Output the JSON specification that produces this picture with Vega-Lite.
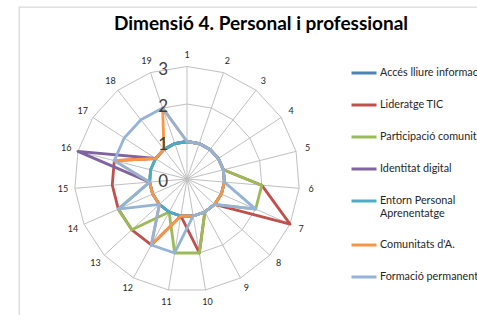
{
  "$schema": "https://vega.github.io/schema/vega-lite/v6.json",
  "width": 470,
  "height": 320,
  "autosize": {"type": "none"},
  "padding": {"left": 19, "top": 7, "right": 0, "bottom": 0},
  "background": "white",
  "config": {"view": {"stroke": "#d9d9d9", "strokeWidth": 1.3}, "font": "Lato"},
  "title": {"text": "Dimensió 4. Personal i professional", "font": "Lato", "fontSize": 19, "fontWeight": "bold", "color": "#000000", "anchor": "middle", "offset": 0, "dy": 42, "dx": 7, "baseline": "alphabetic"},
  "datasets": {
    "eixos": [
      {"eix": 1, "nivells": [1, 2, 3]}, {"eix": 2, "nivells": [1, 2, 3]}, {"eix": 3, "nivells": [1, 2, 3]}, {"eix": 4, "nivells": [1, 2, 3]},
      {"eix": 5, "nivells": [1, 2, 3]}, {"eix": 6, "nivells": [1, 2, 3]}, {"eix": 7, "nivells": [1, 2, 3]}, {"eix": 8, "nivells": [1, 2, 3]},
      {"eix": 9, "nivells": [1, 2, 3]}, {"eix": 10, "nivells": [1, 2, 3]}, {"eix": 11, "nivells": [1, 2, 3]}, {"eix": 12, "nivells": [1, 2, 3]},
      {"eix": 13, "nivells": [1, 2, 3]}, {"eix": 14, "nivells": [1, 2, 3]}, {"eix": 15, "nivells": [1, 2, 3]}, {"eix": 16, "nivells": [1, 2, 3]},
      {"eix": 17, "nivells": [1, 2, 3]}, {"eix": 18, "nivells": [1, 2, 3]}, {"eix": 19, "nivells": [1, 2, 3]}
    ],
    "escala": [{"n": 0}, {"n": 1}, {"n": 2}, {"n": 3}],
    "series": [
      {"serie": "Accés lliure informació", "eix": 1, "valor": 1}, {"serie": "Accés lliure informació", "eix": 2, "valor": 1}, {"serie": "Accés lliure informació", "eix": 3, "valor": 1}, {"serie": "Accés lliure informació", "eix": 4, "valor": 1}, {"serie": "Accés lliure informació", "eix": 5, "valor": 1}, {"serie": "Accés lliure informació", "eix": 6, "valor": 1}, {"serie": "Accés lliure informació", "eix": 7, "valor": 1}, {"serie": "Accés lliure informació", "eix": 8, "valor": 1}, {"serie": "Accés lliure informació", "eix": 9, "valor": 1}, {"serie": "Accés lliure informació", "eix": 10, "valor": 1}, {"serie": "Accés lliure informació", "eix": 11, "valor": 1}, {"serie": "Accés lliure informació", "eix": 12, "valor": 1}, {"serie": "Accés lliure informació", "eix": 13, "valor": 1}, {"serie": "Accés lliure informació", "eix": 14, "valor": 1}, {"serie": "Accés lliure informació", "eix": 15, "valor": 1}, {"serie": "Accés lliure informació", "eix": 16, "valor": 1}, {"serie": "Accés lliure informació", "eix": 17, "valor": 1}, {"serie": "Accés lliure informació", "eix": 18, "valor": 1}, {"serie": "Accés lliure informació", "eix": 19, "valor": 1},
      {"serie": "Lideratge TIC", "eix": 1, "valor": 1}, {"serie": "Lideratge TIC", "eix": 2, "valor": 1}, {"serie": "Lideratge TIC", "eix": 3, "valor": 1}, {"serie": "Lideratge TIC", "eix": 4, "valor": 1}, {"serie": "Lideratge TIC", "eix": 5, "valor": 1}, {"serie": "Lideratge TIC", "eix": 6, "valor": 2}, {"serie": "Lideratge TIC", "eix": 7, "valor": 3}, {"serie": "Lideratge TIC", "eix": 8, "valor": 1}, {"serie": "Lideratge TIC", "eix": 9, "valor": 1}, {"serie": "Lideratge TIC", "eix": 10, "valor": 2}, {"serie": "Lideratge TIC", "eix": 11, "valor": 1}, {"serie": "Lideratge TIC", "eix": 12, "valor": 2}, {"serie": "Lideratge TIC", "eix": 13, "valor": 2}, {"serie": "Lideratge TIC", "eix": 14, "valor": 2}, {"serie": "Lideratge TIC", "eix": 15, "valor": 2}, {"serie": "Lideratge TIC", "eix": 16, "valor": 2}, {"serie": "Lideratge TIC", "eix": 17, "valor": 1}, {"serie": "Lideratge TIC", "eix": 18, "valor": 1}, {"serie": "Lideratge TIC", "eix": 19, "valor": 1},
      {"serie": "Participació comunitària", "eix": 1, "valor": 1}, {"serie": "Participació comunitària", "eix": 2, "valor": 1}, {"serie": "Participació comunitària", "eix": 3, "valor": 1}, {"serie": "Participació comunitària", "eix": 4, "valor": 1}, {"serie": "Participació comunitària", "eix": 5, "valor": 1}, {"serie": "Participació comunitària", "eix": 6, "valor": 2}, {"serie": "Participació comunitària", "eix": 7, "valor": 2}, {"serie": "Participació comunitària", "eix": 8, "valor": 1}, {"serie": "Participació comunitària", "eix": 9, "valor": 1}, {"serie": "Participació comunitària", "eix": 10, "valor": 2}, {"serie": "Participació comunitària", "eix": 11, "valor": 2}, {"serie": "Participació comunitària", "eix": 12, "valor": 1}, {"serie": "Participació comunitària", "eix": 13, "valor": 2}, {"serie": "Participació comunitària", "eix": 14, "valor": 2}, {"serie": "Participació comunitària", "eix": 15, "valor": 1}, {"serie": "Participació comunitària", "eix": 16, "valor": 1}, {"serie": "Participació comunitària", "eix": 17, "valor": 1}, {"serie": "Participació comunitària", "eix": 18, "valor": 1}, {"serie": "Participació comunitària", "eix": 19, "valor": 1},
      {"serie": "Identitat digital", "eix": 1, "valor": 1}, {"serie": "Identitat digital", "eix": 2, "valor": 1}, {"serie": "Identitat digital", "eix": 3, "valor": 1}, {"serie": "Identitat digital", "eix": 4, "valor": 1}, {"serie": "Identitat digital", "eix": 5, "valor": 1}, {"serie": "Identitat digital", "eix": 6, "valor": 1}, {"serie": "Identitat digital", "eix": 7, "valor": 1}, {"serie": "Identitat digital", "eix": 8, "valor": 1}, {"serie": "Identitat digital", "eix": 9, "valor": 1}, {"serie": "Identitat digital", "eix": 10, "valor": 1}, {"serie": "Identitat digital", "eix": 11, "valor": 1}, {"serie": "Identitat digital", "eix": 12, "valor": 1}, {"serie": "Identitat digital", "eix": 13, "valor": 1}, {"serie": "Identitat digital", "eix": 14, "valor": 1}, {"serie": "Identitat digital", "eix": 15, "valor": 1}, {"serie": "Identitat digital", "eix": 16, "valor": 3}, {"serie": "Identitat digital", "eix": 17, "valor": 1}, {"serie": "Identitat digital", "eix": 18, "valor": 1}, {"serie": "Identitat digital", "eix": 19, "valor": 1},
      {"serie": "Entorn Personal Aprenentatge", "eix": 1, "valor": 1}, {"serie": "Entorn Personal Aprenentatge", "eix": 2, "valor": 1}, {"serie": "Entorn Personal Aprenentatge", "eix": 3, "valor": 1}, {"serie": "Entorn Personal Aprenentatge", "eix": 4, "valor": 1}, {"serie": "Entorn Personal Aprenentatge", "eix": 5, "valor": 1}, {"serie": "Entorn Personal Aprenentatge", "eix": 6, "valor": 1}, {"serie": "Entorn Personal Aprenentatge", "eix": 7, "valor": 1}, {"serie": "Entorn Personal Aprenentatge", "eix": 8, "valor": 1}, {"serie": "Entorn Personal Aprenentatge", "eix": 9, "valor": 1}, {"serie": "Entorn Personal Aprenentatge", "eix": 10, "valor": 1}, {"serie": "Entorn Personal Aprenentatge", "eix": 11, "valor": 1}, {"serie": "Entorn Personal Aprenentatge", "eix": 12, "valor": 1}, {"serie": "Entorn Personal Aprenentatge", "eix": 13, "valor": 1}, {"serie": "Entorn Personal Aprenentatge", "eix": 14, "valor": 1}, {"serie": "Entorn Personal Aprenentatge", "eix": 15, "valor": 1}, {"serie": "Entorn Personal Aprenentatge", "eix": 16, "valor": 1}, {"serie": "Entorn Personal Aprenentatge", "eix": 17, "valor": 1}, {"serie": "Entorn Personal Aprenentatge", "eix": 18, "valor": 1}, {"serie": "Entorn Personal Aprenentatge", "eix": 19, "valor": 1},
      {"serie": "Comunitats d'A.", "eix": 1, "valor": 1}, {"serie": "Comunitats d'A.", "eix": 2, "valor": 1}, {"serie": "Comunitats d'A.", "eix": 3, "valor": 1}, {"serie": "Comunitats d'A.", "eix": 4, "valor": 1}, {"serie": "Comunitats d'A.", "eix": 5, "valor": 1}, {"serie": "Comunitats d'A.", "eix": 6, "valor": 1}, {"serie": "Comunitats d'A.", "eix": 7, "valor": 1}, {"serie": "Comunitats d'A.", "eix": 8, "valor": 1}, {"serie": "Comunitats d'A.", "eix": 9, "valor": 1}, {"serie": "Comunitats d'A.", "eix": 10, "valor": 1}, {"serie": "Comunitats d'A.", "eix": 11, "valor": 1}, {"serie": "Comunitats d'A.", "eix": 12, "valor": 2}, {"serie": "Comunitats d'A.", "eix": 13, "valor": 1}, {"serie": "Comunitats d'A.", "eix": 14, "valor": 1}, {"serie": "Comunitats d'A.", "eix": 15, "valor": 1}, {"serie": "Comunitats d'A.", "eix": 16, "valor": 2}, {"serie": "Comunitats d'A.", "eix": 17, "valor": 1}, {"serie": "Comunitats d'A.", "eix": 18, "valor": 1}, {"serie": "Comunitats d'A.", "eix": 19, "valor": 2},
      {"serie": "Formació permanent", "eix": 1, "valor": 1}, {"serie": "Formació permanent", "eix": 2, "valor": 1}, {"serie": "Formació permanent", "eix": 3, "valor": 1}, {"serie": "Formació permanent", "eix": 4, "valor": 1}, {"serie": "Formació permanent", "eix": 5, "valor": 1}, {"serie": "Formació permanent", "eix": 6, "valor": 1}, {"serie": "Formació permanent", "eix": 7, "valor": 2}, {"serie": "Formació permanent", "eix": 8, "valor": 1}, {"serie": "Formació permanent", "eix": 9, "valor": 1}, {"serie": "Formació permanent", "eix": 10, "valor": 1}, {"serie": "Formació permanent", "eix": 11, "valor": 2}, {"serie": "Formació permanent", "eix": 12, "valor": 2}, {"serie": "Formació permanent", "eix": 13, "valor": 1}, {"serie": "Formació permanent", "eix": 14, "valor": 2}, {"serie": "Formació permanent", "eix": 15, "valor": 1}, {"serie": "Formació permanent", "eix": 16, "valor": 2}, {"serie": "Formació permanent", "eix": 17, "valor": 2}, {"serie": "Formació permanent", "eix": 18, "valor": 2}, {"serie": "Formació permanent", "eix": 19, "valor": 2}
    ]
  },
  "layer": [
    {
      "data": {"name": "eixos"},
      "transform": [
        {"flatten": ["nivells"]},
        {"calculate": "(datum.eix - 1) * 2 * PI / 19", "as": "t"},
        {"calculate": "datum.nivells * sin(datum.t)", "as": "px"},
        {"calculate": "datum.nivells * cos(datum.t)", "as": "py"}
      ],
      "mark": {"type": "line", "interpolate": "linear-closed", "stroke": "#c0c0c0", "strokeWidth": 1},
      "encoding": {
        "x": {"field": "px", "type": "quantitative", "scale": {"domain": [-4.48, 8.0533], "nice": false, "zero": false}, "axis": null},
        "y": {"field": "py", "type": "quantitative", "scale": {"domain": [-3.9467, 4.5867], "nice": false, "zero": false}, "axis": null},
        "detail": {"field": "nivells", "type": "nominal"},
        "order": {"field": "eix", "type": "quantitative"}
      }
    },
    {
      "data": {"name": "eixos"},
      "transform": [
        {"calculate": "(datum.eix - 1) * 2 * PI / 19", "as": "t"},
        {"calculate": "0", "as": "cx"},
        {"calculate": "0", "as": "cy"},
        {"calculate": "3 * sin(datum.t)", "as": "sx"},
        {"calculate": "3 * cos(datum.t)", "as": "sy"}
      ],
      "mark": {"type": "rule", "stroke": "#c0c0c0", "strokeWidth": 1},
      "encoding": {
        "x": {"field": "cx", "type": "quantitative"},
        "y": {"field": "cy", "type": "quantitative"},
        "x2": {"field": "sx"},
        "y2": {"field": "sy"}
      }
    },
    {
      "data": {"name": "series"},
      "transform": [
        {"calculate": "(datum.eix - 1) * 2 * PI / 19", "as": "t"},
        {"calculate": "datum.valor * sin(datum.t)", "as": "px"},
        {"calculate": "datum.valor * cos(datum.t)", "as": "py"}
      ],
      "mark": {"type": "line", "interpolate": "linear-closed", "strokeWidth": 2.8, "strokeJoin": "round", "strokeCap": "round"},
      "encoding": {
        "x": {"field": "px", "type": "quantitative"},
        "y": {"field": "py", "type": "quantitative"},
        "order": {"field": "eix", "type": "quantitative"},
        "color": {
          "field": "serie", "type": "nominal",
          "scale": {
            "domain": ["Accés lliure informació", "Lideratge TIC", "Participació comunitària", "Identitat digital", "Entorn Personal Aprenentatge", "Comunitats d'A.", "Formació permanent"],
            "range": ["#4f81bd", "#c0504d", "#9bbb59", "#8064a2", "#4bacc6", "#f79646", "#95b3d7"]
          },
          "legend": {
            "orient": "none", "legendX": 331, "legendY": 52, "title": null,
            "symbolType": "stroke", "symbolSize": 625, "symbolStrokeWidth": 3, "symbolOpacity": 1,
            "labelFont": "Lato", "labelFontSize": 10.8, "labelColor": "#262626", "labelOffset": 2, "labelLimit": 0,
            "rowPadding": 12,
            "labelExpr": "datum.label == 'Entorn Personal Aprenentatge' ? ['Entorn Personal', 'Aprenentatge'] : datum.label"
          }
        }
      }
    },
    {
      "data": {"name": "eixos"},
      "transform": [
        {"calculate": "(datum.eix - 1) * 2 * PI / 19", "as": "t"},
        {"calculate": "3.32 * sin(datum.t)", "as": "lx"},
        {"calculate": "3.32 * cos(datum.t)", "as": "ly"}
      ],
      "mark": {"type": "text", "fontSize": 9, "font": "Lato", "color": "#262626", "align": "center", "baseline": "middle"},
      "encoding": {
        "x": {"field": "lx", "type": "quantitative"},
        "y": {"field": "ly", "type": "quantitative"},
        "text": {"field": "eix", "type": "nominal"}
      }
    },
    {
      "data": {"name": "escala"},
      "transform": [{"calculate": "0", "as": "cx"}],
      "mark": {"type": "text", "fontSize": 17, "font": "Lato", "color": "#404040", "align": "right", "baseline": "middle", "dx": -19, "dy": 3},
      "encoding": {
        "x": {"field": "cx", "type": "quantitative"},
        "y": {"field": "n", "type": "quantitative"},
        "text": {"field": "n", "type": "nominal"}
      }
    }
  ]
}
